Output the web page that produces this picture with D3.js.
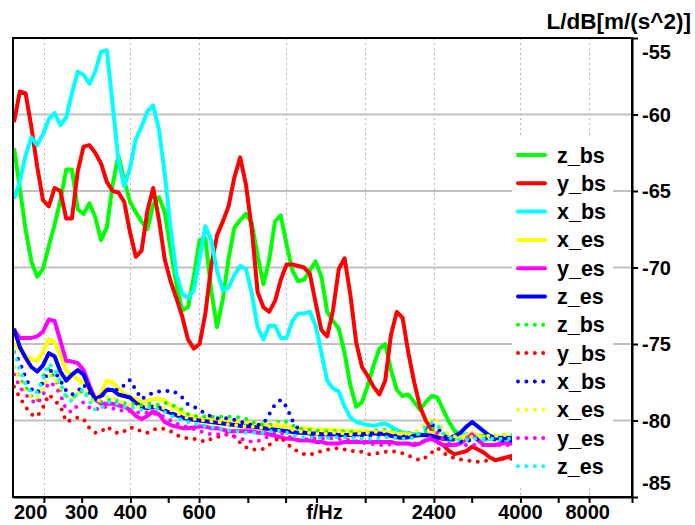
<!DOCTYPE html>
<html>
<head>
<meta charset="utf-8">
<script src="https://cdn.jsdelivr.net/npm/d3@7"></script>
<style>
  body { margin: 0; background: #fff; }
  svg text { font-family: "Liberation Sans", Arial, Helvetica, sans-serif; font-weight: bold; fill: #000; }
</style>
</head>
<body>
<svg id="chart" width="695" height="525"></svg>
<script>
// Frequency grid (Hz), 1/20-octave spacing
const freqs = [201.2,208.2,215.4,222.9,230.7,238.7,247.1,255.7,264.6,273.8,
  283.3,293.2,303.4,314.0,324.9,336.3,348.0,360.1,372.6,385.6,
  399.1,413.0,427.3,442.2,457.6,473.6,490.1,507.1,524.8,543.1,
  562.0,581.6,601.9,622.8,644.5,667.0,690.2,714.2,739.1,764.9,
  791.5,819.1,847.6,877.2,907.7,939.3,972.1,1005.9,1041.0,1077.2,
  1114.8,1153.6,1193.8,1235.4,1278.4,1323.0,1369.1,1416.8,1466.1,1517.2,
  1570.0,1624.7,1681.3,1739.9,1800.5,1863.2,1928.1,1995.3,2064.8,2136.7,
  2211.2,2288.2,2367.9,2450.4,2535.8,2624.1,2715.5,2810.1,2908.0,3009.3,
  3114.2,3222.7,3335.0,3451.1,3571.3,3695.7,3824.5];

// Levels L/dB re 1 m/s^2 — solid curves
const zBs = [-62.2,-64.8,-67.5,-69.6,-70.6,-70.1,-68.6,-67.2,-65.6,-63.6,
  -63.6,-66.2,-66.5,-65.8,-66.7,-68.2,-67.4,-64.6,-62.7,-64.3,
  -65.7,-66.4,-67.0,-67.5,-65.9,-65.4,-66.4,-68.8,-71.1,-72.8,
  -72.6,-70.6,-68.2,-68.1,-71.5,-73.9,-72.1,-69.4,-67.4,-66.9,
  -66.5,-67.1,-69.2,-71.1,-69.5,-67.0,-66.6,-68.5,-70.2,-70.9,
  -70.8,-70.2,-69.6,-70.6,-72.9,-73.5,-74.0,-75.6,-77.7,-79.1,
  -78.8,-77.7,-76.4,-75.3,-75.0,-76.7,-78.0,-78.4,-78.3,-78.8,
  -79.3,-78.8,-78.4,-78.5,-79.3,-80.1,-80.7,-80.9,-81.0,-81.0,
  -81.0,-81.0,-81.0,-81.1,-81.1,-81.1,-81.1];
const yBs = [-60.5,-58.5,-58.6,-60.8,-63.4,-65.6,-66.0,-64.8,-65.0,-66.8,
  -66.8,-63.7,-62.1,-62.0,-62.5,-63.2,-64.4,-65.0,-65.1,-65.7,
  -67.7,-69.3,-68.9,-66.3,-64.8,-66.9,-69.5,-70.9,-72.0,-73.2,
  -74.7,-75.3,-75.0,-73.0,-69.9,-67.9,-67.0,-66.0,-64.1,-62.8,
  -64.6,-67.5,-71.6,-72.6,-72.9,-72.2,-70.8,-69.8,-69.8,-69.9,
  -70.0,-70.4,-72.3,-74.1,-74.5,-72.8,-70.1,-69.4,-71.8,-74.9,
  -76.5,-77.1,-77.8,-78.3,-77.4,-74.4,-72.9,-73.3,-75.6,-77.5,
  -79.1,-80.0,-80.6,-81.4,-81.6,-82.0,-82.2,-82.1,-82.0,-81.7,
  -81.9,-82.1,-82.4,-82.6,-82.5,-82.4,-82.3];
const xBs = [-65.5,-64.4,-62.7,-61.5,-62.0,-61.3,-60.3,-59.9,-60.7,-60.2,
  -58.6,-57.2,-57.4,-58.0,-57.2,-55.9,-55.8,-59.3,-63.0,-64.7,
  -63.5,-61.6,-60.8,-59.8,-59.4,-61.0,-63.9,-67.4,-70.4,-71.7,
  -72.0,-71.5,-69.4,-67.3,-68.2,-70.2,-71.5,-71.3,-70.5,-69.9,
  -70.1,-71.7,-73.9,-74.7,-73.8,-73.8,-74.6,-74.6,-73.5,-73.0,
  -73.0,-72.9,-73.8,-75.6,-77.4,-77.9,-78.1,-79.1,-79.8,-80.1,
  -80.2,-80.3,-80.35,-80.25,-80.2,-80.4,-80.6,-80.8,-80.85,-80.9,
  -81.0,-81.0,-80.9,-81.0,-81.2,-81.3,-81.2,-81.0,-80.9,-81.0,
  -81.2,-81.3,-81.2,-81.2,-81.3,-81.3,-81.3];
const xEs = [-74.95,-75.4,-75.75,-76.0,-76.1,-75.5,-74.7,-74.9,-75.8,-76.75,
  -77.0,-77.3,-77.6,-78.1,-78.65,-78.2,-77.4,-77.5,-77.9,-78.25,
  -78.45,-78.6,-78.8,-78.7,-78.6,-78.6,-78.7,-79.0,-79.2,-79.45,
  -79.6,-79.75,-79.85,-79.9,-79.95,-80.0,-80.05,-80.1,-80.1,-80.15,
  -80.2,-80.2,-80.25,-80.3,-80.3,-80.35,-80.4,-80.4,-80.45,-80.5,
  -80.5,-80.55,-80.6,-80.6,-80.6,-80.6,-80.65,-80.7,-80.7,-80.7,
  -80.7,-80.7,-80.75,-80.8,-80.8,-80.8,-80.9,-80.9,-80.9,-81.0,
  -81.0,-80.9,-80.8,-80.9,-81.0,-81.1,-81.1,-81.1,-81.0,-80.8,
  -81.0,-81.1,-81.1,-81.1,-81.1,-81.1,-81.1];
const yEs = [-74.1,-74.6,-74.6,-74.6,-74.5,-74.2,-73.4,-73.5,-74.8,-76.1,
  -76.15,-76.25,-76.7,-77.7,-78.6,-78.9,-78.9,-78.9,-79.0,-79.1,
  -79.3,-79.7,-79.9,-79.7,-79.4,-79.6,-80.1,-80.3,-80.4,-80.5,
  -80.5,-80.45,-80.4,-80.4,-80.5,-80.5,-80.6,-80.7,-80.7,-80.7,
  -80.7,-80.7,-80.8,-80.8,-80.9,-81.0,-81.1,-81.2,-81.2,-81.3,
  -81.3,-81.3,-81.4,-81.4,-81.5,-81.5,-81.5,-81.4,-81.4,-81.4,
  -81.4,-81.4,-81.4,-81.4,-81.4,-81.4,-81.5,-81.5,-81.5,-81.6,
  -81.5,-81.3,-81.2,-81.4,-81.6,-81.6,-81.6,-81.5,-81.2,-80.9,
  -81.3,-81.6,-81.6,-81.6,-81.5,-81.5,-81.5];
const zEs = [-74.0,-75.2,-75.9,-76.5,-76.8,-76.4,-75.6,-75.8,-76.8,-77.4,
  -77.0,-76.7,-77.0,-77.9,-78.6,-78.4,-78.0,-78.0,-78.3,-78.4,
  -78.5,-78.85,-79.1,-79.2,-79.1,-79.15,-79.35,-79.5,-79.65,-79.8,
  -79.9,-79.95,-80.0,-80.05,-80.1,-80.15,-80.2,-80.25,-80.3,-80.35,
  -80.4,-80.4,-80.45,-80.5,-80.55,-80.6,-80.65,-80.7,-80.75,-80.8,
  -80.8,-80.85,-80.85,-80.9,-80.9,-80.9,-80.95,-80.95,-80.95,-80.9,
  -80.9,-80.85,-80.85,-80.85,-80.9,-81.0,-81.1,-81.15,-81.1,-81.0,
  -80.95,-80.95,-81.0,-81.1,-81.2,-81.2,-81.0,-80.8,-80.4,-80.1,
  -80.4,-80.7,-81.0,-81.15,-81.15,-81.15,-81.15];

// Levels — dotted curves
const zBsDot = [-76.5,-77.3,-77.8,-78.4,-78.7,-77.1,-76.6,-77.2,-78.0,-78.4,
  -78.5,-78.3,-78.0,-78.5,-78.75,-78.75,-78.7,-78.55,-78.75,-78.85,
  -78.9,-78.95,-79.0,-78.9,-78.9,-79.0,-78.85,-78.95,-79.1,-79.3,
  -79.6,-79.7,-79.75,-79.75,-79.75,-79.75,-79.75,-79.75,-79.75,-79.8,
  -79.9,-80.1,-80.2,-80.25,-80.3,-80.2,-80.0,-80.1,-80.3,-80.5,
  -80.6,-80.6,-80.65,-80.7,-80.7,-80.7,-80.7,-80.7,-80.75,-80.8,
  -80.8,-80.8,-80.7,-80.6,-80.6,-80.65,-80.7,-80.75,-80.8,-80.9,
  -80.9,-80.7,-80.55,-80.4,-80.8,-81.05,-81.1,-81.15,-81.15,-81.1,
  -81.05,-81.05,-81.0,-81.0,-80.95,-80.95,-80.95];
const yBsDot = [-77.8,-78.5,-79.1,-79.6,-79.75,-79.15,-78.3,-78.7,-79.05,-80.1,
  -79.95,-79.8,-79.9,-80.5,-80.8,-80.75,-80.4,-80.65,-80.85,-80.7,
  -80.45,-80.5,-80.75,-80.8,-80.6,-80.5,-80.55,-80.7,-80.95,-81.1,
  -81.15,-81.2,-81.27,-81.4,-81.2,-81.1,-80.95,-80.85,-81.05,-81.45,
  -81.75,-81.9,-81.9,-81.85,-81.6,-81.3,-81.1,-81.5,-81.8,-82.05,
  -82.2,-82.25,-82.1,-82.0,-81.9,-81.85,-81.8,-81.9,-82.0,-82.0,
  -82.05,-82.2,-82.2,-82.1,-82.05,-82.0,-82.05,-82.15,-82.3,-82.45,
  -82.6,-82.4,-82.1,-81.8,-82.1,-82.35,-82.45,-82.55,-82.6,-82.65,
  -82.7,-82.65,-82.6,-82.55,-82.5,-82.5,-82.5];
const xBsDot = [-75.5,-76.2,-77.2,-77.95,-78.2,-77.5,-76.75,-76.8,-77.4,-78.05,
  -78.3,-78.1,-77.65,-78.15,-78.55,-78.5,-77.95,-78.0,-78.0,-77.7,
  -77.35,-78.0,-78.6,-78.35,-78.2,-78.1,-78.1,-78.05,-78.2,-78.5,
  -78.95,-79.1,-79.3,-79.55,-79.75,-79.85,-79.85,-79.85,-79.95,-80.07,
  -80.2,-80.3,-80.3,-80.2,-79.6,-78.95,-78.65,-79.1,-80.0,-80.55,
  -80.8,-80.95,-81.05,-81.05,-81.05,-81.05,-81.05,-81.05,-81.05,-81.0,
  -81.0,-81.0,-80.95,-80.95,-80.95,-81.0,-81.0,-81.05,-81.05,-81.05,
  -80.9,-80.5,-80.25,-80.5,-80.95,-81.15,-81.3,-81.4,-81.35,-81.25,
  -81.2,-81.16,-81.2,-81.25,-81.3,-81.3,-81.3];
const xEsDot = [-76.5,-77.55,-78.1,-78.5,-78.5,-77.9,-77.1,-77.2,-77.9,-78.45,
  -78.6,-78.2,-78.25,-78.65,-78.85,-78.6,-78.45,-78.5,-78.7,-78.85,
  -79.0,-79.1,-79.1,-79.1,-79.1,-79.1,-79.2,-79.3,-79.5,-79.7,
  -79.85,-79.9,-79.96,-80.0,-80.05,-80.07,-80.15,-80.25,-80.3,-80.35,
  -80.4,-80.4,-80.45,-80.5,-80.4,-80.25,-80.2,-80.4,-80.6,-80.7,
  -80.75,-80.8,-80.85,-80.9,-80.85,-80.8,-80.8,-80.85,-80.9,-80.85,
  -80.8,-80.8,-80.75,-80.7,-80.7,-80.75,-80.8,-80.85,-80.9,-80.8,
  -80.5,-80.2,-79.85,-80.0,-80.6,-80.9,-81.05,-81.15,-81.1,-81.05,
  -81.05,-81.05,-81.0,-81.0,-80.95,-80.95,-80.95];
const yEsDot = [-77.0,-77.8,-78.3,-78.7,-78.9,-78.35,-77.5,-77.7,-78.3,-79.3,
  -79.45,-79.0,-78.8,-79.15,-79.3,-79.15,-79.1,-79.2,-79.3,-79.4,
  -79.4,-79.45,-79.5,-79.5,-79.55,-79.6,-79.8,-80.0,-80.2,-80.3,
  -80.45,-80.55,-80.7,-80.8,-80.9,-80.9,-80.9,-80.95,-81.05,-81.16,
  -81.3,-81.4,-81.35,-81.2,-81.0,-80.85,-80.8,-81.0,-81.15,-81.27,
  -81.25,-81.2,-81.16,-81.16,-81.16,-81.16,-81.2,-81.25,-81.27,-81.35,
  -81.45,-81.5,-81.55,-81.6,-81.6,-81.55,-81.5,-81.5,-81.5,-81.5,
  -81.45,-81.3,-81.0,-80.8,-81.3,-81.5,-81.55,-81.6,-81.6,-81.6,
  -81.6,-81.6,-81.6,-81.6,-81.6,-81.6,-81.6];
const zEsDot = [-75.5,-76.7,-77.6,-78.2,-78.15,-77.3,-76.3,-76.6,-77.5,-78.5,
  -78.75,-78.15,-77.95,-78.75,-79.3,-79.2,-78.85,-78.75,-78.95,-79.1,
  -79.1,-79.2,-79.3,-79.15,-79.15,-79.3,-79.45,-79.65,-79.85,-79.95,
  -80.1,-80.2,-80.3,-80.35,-80.45,-80.5,-80.55,-80.65,-80.7,-80.75,
  -80.8,-80.8,-80.8,-80.8,-80.75,-80.6,-80.7,-80.8,-80.95,-81.05,
  -81.1,-81.1,-81.15,-81.15,-81.15,-81.1,-81.1,-81.1,-81.15,-81.15,
  -81.2,-81.2,-81.2,-81.15,-81.1,-81.1,-81.15,-81.2,-81.2,-81.1,
  -80.8,-80.4,-80.15,-80.3,-80.85,-81.1,-81.25,-81.27,-81.25,-81.2,
  -81.2,-81.2,-81.2,-81.2,-81.2,-81.2,-81.2];

const seriesNames  = ["z_bs","y_bs","x_bs","x_es","y_es","z_es","z_bs","y_bs","x_bs","x_es","y_es","z_es"];
const seriesValues = [zBs, yBs, xBs, xEs, yEs, zEs, zBsDot, yBsDot, xBsDot, xEsDot, yEsDot, zEsDot];
const seriesColors = ["#00ff00","#ff0000","#00ffff","#ffff00","#ff00ff","#0000ff",
                      "#00ff00","#ff0000","#0000ff","#ffff00","#ff00ff","#00ffff"];
const seriesDotted = [false,false,false,false,false,false,true,true,true,true,true,true];

// Axis ticks
const xTickValues  = [240,300,400,500,600,800,1000,1200,1600,2000,2400,3000,4000,5000,6000];
const xGridValues  = [240,400,600,1000,1600,2400,4000,6000];
const xLabelValues = [200,300,400,600,1200,2400,4000,8000];
const xLabelTexts  = ["200","300","400","600","f/Hz","2400","4000","8000"];
const yTickValues  = [-55,-60,-65,-70,-75,-80,-85];
const yGridValues  = [-60,-65,-70,-75,-80];
const yTitle = "L/dB[m/(s^2)]";

// Layout
const plot = { left: 13, right: 632, top: 38, bottom: 497 };
const svg = d3.select("#chart");

const x = d3.scaleLog().domain([200, 7730]).range([plot.left, plot.right]);
const y = d3.scaleLinear().domain([-85, -55]).range([plot.bottom, plot.top]);

svg.append("rect").attr("width", 695).attr("height", 525).attr("fill", "#fff");

// Grid
svg.append("g").selectAll("line").data(yGridValues).join("line")
  .attr("x1", plot.left).attr("x2", plot.right)
  .attr("y1", d => y(d)).attr("y2", d => y(d))
  .attr("stroke", "#c0c0c0").attr("stroke-width", 2);
svg.append("g").selectAll("line").data(xGridValues).join("line")
  .attr("x1", d => Math.round(x(d)) + 0.5).attr("x2", d => Math.round(x(d)) + 0.5)
  .attr("y1", plot.top).attr("y2", plot.bottom)
  .attr("stroke", "#b8b8b8").attr("stroke-width", 1).attr("stroke-dasharray", "2,3");

// Curves
svg.append("defs").append("clipPath").attr("id", "plotClip")
  .append("rect").attr("x", plot.left).attr("y", plot.top)
  .attr("width", plot.right - plot.left).attr("height", plot.bottom - plot.top);

const line = d3.line().x((d, i) => x(freqs[i])).y(d => y(d));
const curves = svg.append("g").attr("clip-path", "url(#plotClip)");
seriesValues.forEach((vals, k) => {
  curves.append("path").datum(vals)
    .attr("d", line)
    .attr("fill", "none")
    .attr("stroke", seriesColors[k])
    .attr("stroke-width", 4)
    .attr("stroke-linejoin", "round")
    .attr("stroke-linecap", seriesDotted[k] ? "round" : "butt")
    .attr("stroke-dasharray", seriesDotted[k] ? "0 8.4" : null);
});

// Frame
svg.append("rect").attr("x", plot.left).attr("y", plot.top)
  .attr("width", plot.right - plot.left).attr("height", plot.bottom - plot.top)
  .attr("fill", "none").attr("stroke", "#000").attr("stroke-width", 2);

// Bottom axis ticks
const xAxis = d3.axisBottom(x).tickValues(xTickValues.concat([x.domain()[1]]))
  .tickSize(6).tickSizeOuter(0).tickFormat("");
const gx = svg.append("g").attr("transform", `translate(0,${plot.bottom})`).call(xAxis);
gx.select(".domain").attr("stroke", "#000").attr("stroke-width", 2);
gx.selectAll(".tick line").attr("stroke", "#000").attr("stroke-width", 2);

// Bottom labels (end labels kept inside the frame)
const xr = x.range();
svg.append("g").selectAll("text").data(xLabelValues).join("text")
  .attr("x", (d, i) => i === 0 ? xr[0] + 1 : (i === xLabelValues.length - 1 ? xr[1] - 22 : x(d) + (xLabelTexts[i] === "f/Hz" ? 8 : 0)))
  .attr("y", 519)
  .attr("text-anchor", (d, i) => i === 0 ? "start" : (i === xLabelValues.length - 1 ? "end" : "middle"))
  .attr("font-size", 20)
  .text((d, i) => xLabelTexts[i]);

// Right axis
const yAxis = d3.axisRight(y).tickValues(yTickValues).tickSize(6).tickSizeOuter(0).tickFormat("");
const gy = svg.append("g").attr("transform", `translate(${plot.right},0)`).call(yAxis);
gy.select(".domain").attr("stroke", "#000").attr("stroke-width", 2);
gy.selectAll(".tick line").attr("stroke", "#000").attr("stroke-width", 2);

svg.append("g").selectAll("text").data(yTickValues).join("text")
  .attr("x", 642)
  .attr("y", d => Math.min(Math.max(y(d), plot.top + 14), plot.bottom - 14))
  .attr("dy", "0.35em")
  .attr("font-size", 20)
  .text(d => d);

svg.append("text").attr("x", 691).attr("y", 29).attr("text-anchor", "end")
  .attr("font-size", 22.5).text(yTitle);

// Legend
const legend = svg.append("g");
legend.append("rect").attr("x", 512).attr("y", 137).attr("width", 101).attr("height", 349).attr("fill", "#fff");
const rowY = k => 155 + k * 28.3;
seriesNames.forEach((name, k) => {
  legend.append("line")
    .attr("x1", 518).attr("x2", 545).attr("y1", rowY(k)).attr("y2", rowY(k))
    .attr("stroke", seriesColors[k]).attr("stroke-width", 4)
    .attr("stroke-linecap", "round")
    .attr("stroke-dasharray", seriesDotted[k] ? "0 8.4" : null);
  legend.append("text").attr("x", 557).attr("y", rowY(k)).attr("dy", "0.35em")
    .attr("font-size", 21.5).text(name);
});
</script>
</body>
</html>
